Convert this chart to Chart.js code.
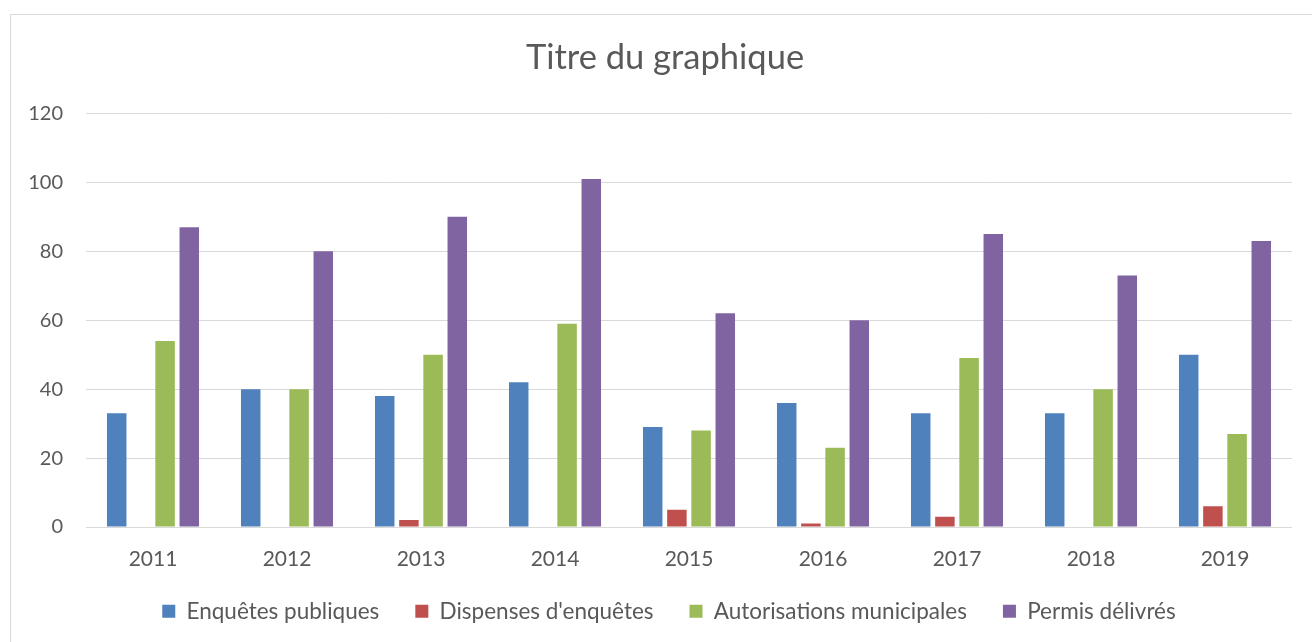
<!DOCTYPE html>
<html>
<head>
<meta charset="utf-8">
<script src="https://cdn.jsdelivr.net/npm/chart.js@4/dist/chart.umd.min.js"></script>
<style>
  html, body { margin: 0; padding: 0; background: #ffffff; overflow: hidden; }
  #wrap { position: relative; width: 1312px; height: 642px; }
  #frame { position: absolute; left: 10px; top: 14px; width: 1320px; height: 660px; border: 1px solid #d9d9d9; box-sizing: border-box; }
  canvas { position: absolute; left: 0; top: 0; }
</style>
</head>
<body>
<div id="wrap">
  <div id="frame"></div>
  <canvas id="c" width="1312" height="642"></canvas>
</div>
<script>
const titleText = "Titre du graphique";
const years = ["2011", "2012", "2013", "2014", "2015", "2016", "2017", "2018", "2019"];
const seriesNames = ["Enquêtes publiques", "Dispenses d'enquêtes", "Autorisations municipales", "Permis délivrés"];
const enquetesPubliques = [33, 40, 38, 42, 29, 36, 33, 33, 50];
const dispensesEnquetes = [0, 0, 2, 0, 5, 1, 3, 0, 6];
const autorisationsMunicipales = [54, 40, 50, 59, 28, 23, 49, 40, 27];
const permisDelivres = [87, 80, 90, 101, 62, 60, 85, 73, 83];
const yTicks = [0, 20, 40, 60, 80, 100, 120];

const colors = ["#4f81bd", "#c0504d", "#9bbb59", "#8064a2"];
const seriesValues = [enquetesPubliques, dispensesEnquetes, autorisationsMunicipales, permisDelivres];

// shift title / legend boxes after layout
const boxShift = {
  id: 'boxShift',
  afterLayout(chart) {
    if (chart.titleBlock) {
      chart.titleBlock.left += 19;
      chart.titleBlock.right += 19;
    }
    if (chart.legend) {
      chart.legend.left += 23;
      chart.legend.right += 23;
      const dy = chart.legend.top - 564;
      chart.legend.top -= dy;
      chart.legend.bottom -= dy;
    }
  }
};

new Chart(document.getElementById('c'), {
  type: 'bar',
  data: {
    labels: years,
    datasets: seriesNames.map((name, i) => ({
      label: name,
      data: seriesValues[i],
      backgroundColor: colors[i],
      borderWidth: 0,
      categoryPercentage: 0.722,
      barPercentage: 0.806
    }))
  },
  options: {
    responsive: false,
    animation: false,
    devicePixelRatio: 1,
    layout: { padding: { left: 0, right: 20, top: 0, bottom: 4.5 } },
    plugins: {
      title: {
        display: true,
        text: titleText,
        color: '#595959',
        font: { family: 'Lato', size: 34.5, weight: 'normal', lineHeight: 1.2 },
        padding: { top: 37, bottom: 35 }
      },
      legend: {
        position: 'bottom',
        labels: {
          color: '#595959',
          font: { family: 'Lato', size: 22.5 },
          boxWidth: 13,
          boxHeight: 13,
          padding: 36
        }
      },
      tooltip: { enabled: false }
    },
    scales: {
      x: {
        grid: { display: false },
        border: { display: false },
        ticks: {
          color: '#595959',
          font: { family: 'Lato', size: 21 },
          padding: 12,
          maxRotation: 0
        },
        afterFit(scale) { scale.height = 42; }
      },
      y: {
        min: 0,
        max: 120,
        afterBuildTicks(scale) { scale.ticks = yTicks.map(v => ({ value: v })); },
        grid: { color: '#d9d9d9', lineWidth: 1, drawTicks: false },
        border: { display: false },
        ticks: {
          color: '#595959',
          font: { family: 'Lato', size: 20 },
          padding: 23
        },
        afterFit(scale) { scale.width = 86; }
      }
    }
  },
  plugins: [boxShift]
});
</script>
</body>
</html>
